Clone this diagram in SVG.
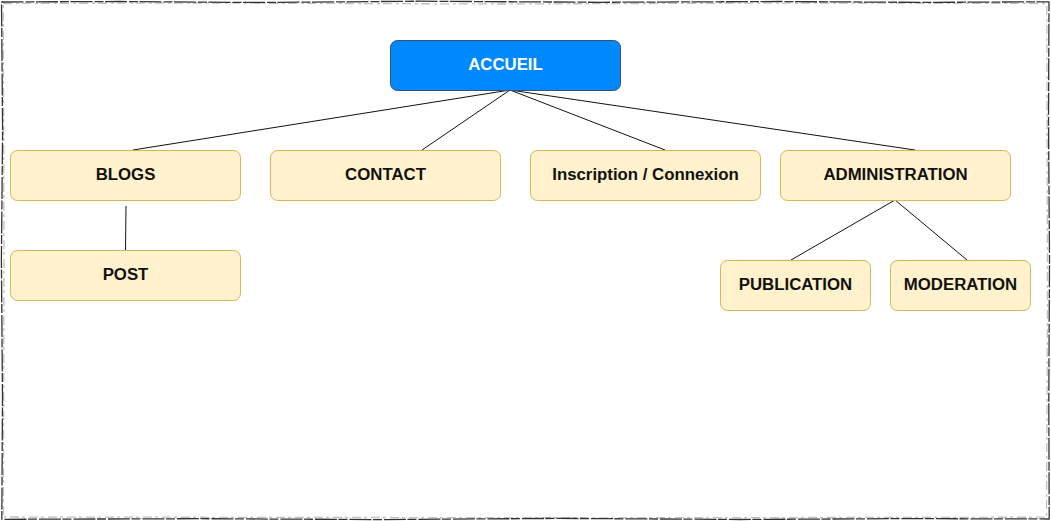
<svg xmlns="http://www.w3.org/2000/svg" width="1051" height="521" viewBox="0 0 1051 521">
<style>
.n{fill:#fff2cc;stroke:#d6b656;stroke-width:1}
.t{font-family:"Liberation Sans",Arial,sans-serif;font-weight:bold;font-size:16.8px;fill:#111;text-anchor:middle;dominant-baseline:central}
.e{stroke:#111;stroke-width:1;fill:none}
.b{fill:none;stroke:#333;stroke-width:1.3;stroke-linejoin:round}
</style>
<rect x="0" y="0" width="1051" height="521" fill="#fff"/>
<path class="b" d="M1.5,2 L120,1.5 L260,2.5 L420,1.2 L600,2.3 L780,1.5 L920,2.4 L1049,1.8 L1048.5,120 L1049.5,260 L1048.8,400 L1049.2,519 L900,518.6 L740,519.5 L560,518.4 L380,519.6 L200,518.7 L1.8,519.3 L2.5,400 L1.4,260 L2.6,130 Z" stroke-dasharray="22 2 9 1.5"/>
<path class="b" d="M3,3.5 L200,3 L500,4 L800,3 L1047,3.5 M1046.8,6 L1047.5,300 L1046.5,517 M1045,517.2 L600,517.8 L4,517 M3.4,515 L4,250 L3.2,5" stroke-opacity="0.3" stroke-dasharray="9 4 3 3"/>
<g id="connectors">
<line class="e" x1="510" y1="90" x2="133" y2="150"/>
<line class="e" x1="510" y1="90" x2="422" y2="150"/>
<line class="e" x1="510" y1="90" x2="665" y2="150"/>
<line class="e" x1="510" y1="90" x2="915" y2="150"/>
<line class="e" x1="126" y1="206" x2="125.5" y2="250"/>
<line class="e" x1="895" y1="200" x2="791" y2="260"/>
<line class="e" x1="895" y1="200" x2="967" y2="260"/>
</g>
<g id="accueil"><rect x="390.5" y="40.5" width="230" height="50" rx="7" fill="#0088ff" stroke="#36507a"/><text class="t" x="505.5" y="64.5" style="fill:#fff">ACCUEIL</text></g>
<g id="blogs"><rect class="n" x="10.5" y="150.5" width="230" height="50" rx="7"/><text class="t" x="125.5" y="174.5">BLOGS</text></g>
<g id="contact"><rect class="n" x="270.5" y="150.5" width="230" height="50" rx="7"/><text class="t" x="385.5" y="174.5">CONTACT</text></g>
<g id="inscription"><rect class="n" x="530.5" y="150.5" width="230" height="50" rx="7"/><text class="t" x="645.5" y="174.5">Inscription / Connexion</text></g>
<g id="administration"><rect class="n" x="780.5" y="150.5" width="230" height="50" rx="7"/><text class="t" x="895.5" y="174.5">ADMINISTRATION</text></g>
<g id="post"><rect class="n" x="10.5" y="250.5" width="230" height="50" rx="7"/><text class="t" x="125.5" y="274.5">POST</text></g>
<g id="publication"><rect class="n" x="720.5" y="260.5" width="150" height="50" rx="7"/><text class="t" x="795.5" y="284.5">PUBLICATION</text></g>
<g id="moderation"><rect class="n" x="890.5" y="260.5" width="140" height="50" rx="7"/><text class="t" x="960.5" y="284.5">MODERATION</text></g>
</svg>
